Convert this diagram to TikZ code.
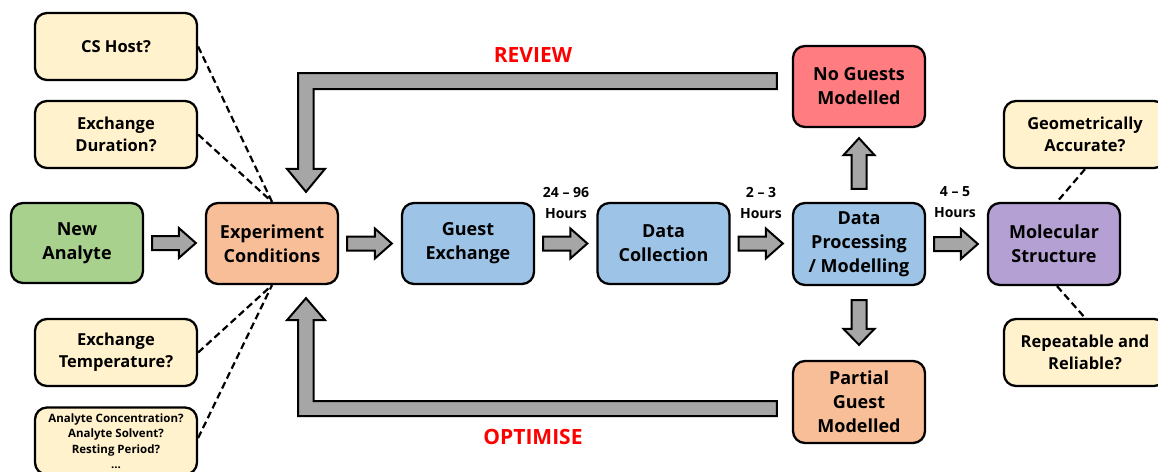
\documentclass[tikz,border=0pt]{standalone}
\usepackage{fontspec}
\setmainfont{Open Sans}
\usetikzlibrary{calc}
\definecolor{cyel}{HTML}{FFF2CC}
\definecolor{cgreen}{HTML}{A9D18E}
\definecolor{corange}{HTML}{F8BE97}
\definecolor{cblue}{HTML}{9DC3E6}
\definecolor{cred}{HTML}{FF7C80}
\definecolor{cpurple}{HTML}{B4A0D2}
\definecolor{cgray}{HTML}{A6A6A6}
\tikzset{
 box/.style={draw=black, line width=2.3pt, rounded corners=12pt, minimum width=132pt, minimum height=81pt, align=center, inner sep=2pt, font=\bfseries\fontsize{18}{24}\selectfont},
 qbox/.style={box, fill=cyel, minimum width=162pt, minimum height=67pt, font=\bfseries\fontsize{16.5}{22}\selectfont},
 barrow/.style={draw=black, fill=cgray, line width=2pt, line join=miter},
 dashline/.style={draw=black, line width=2.2pt, dash pattern=on 7pt off 4pt},
 timelbl/.style={align=center, font=\bfseries\fontsize{14}{21}\selectfont},
 redlbl/.style={text=red, font=\bfseries\fontsize{21}{24}\selectfont},
}
\newcommand{\harr}[2]{\path[barrow] let \p1=($(#1.east)+(8pt,0)$), \p2=($(#2.west)+(-9pt,0)$) in
 (\x1,\y1+7pt) -- (\x2-17pt,\y1+7pt) -- (\x2-17pt,\y1+15pt) -- (\x2,\y1) -- (\x2-17pt,\y1-15pt) -- (\x2-17pt,\y1-7pt) -- (\x1,\y1-7pt) -- cycle;}
\newcommand{\uarr}[2]{\path[barrow] let \p1=($(#1.north)+(0,13pt)$), \p2=($(#2.south)+(0,-10pt)$) in
 (\x1-7.5pt,\y1) -- (\x1-7.5pt,\y2-17pt) -- (\x1-15.5pt,\y2-17pt) -- (\x1,\y2) -- (\x1+15.5pt,\y2-17pt) -- (\x1+7.5pt,\y2-17pt) -- (\x1+7.5pt,\y1) -- cycle;}
\newcommand{\darr}[2]{\path[barrow] let \p1=($(#1.south)+(0,-14pt)$), \p2=($(#2.north)+(0,15pt)$) in
 (\x1-7.5pt,\y1) -- (\x1-7.5pt,\y2+16pt) -- (\x1-15.5pt,\y2+16pt) -- (\x1,\y2) -- (\x1+15.5pt,\y2+16pt) -- (\x1+7.5pt,\y2+16pt) -- (\x1+7.5pt,\y1) -- cycle;}
\begin{document}
\begin{tikzpicture}[x=1pt,y=-1pt]
\useasboundingbox (0,0) rectangle (1158,471);
\clip (0,0) rectangle (1158,471);
\fill[white] (0,0) rectangle (1158,471);

% question boxes
\node[qbox] (cs) at (116,46.5) {CS Host?};
\node[qbox] (ed) at (116,134.5) {Exchange\\Duration?};
\node[qbox] (et) at (116,352.5) {Exchange\\Temperature?};
\node[qbox, font=\bfseries\fontsize{11.5}{15.5}\selectfont] (oth) at (116,441) {Analyte Concentration?\\Analyte Solvent?\\Resting Period?\\...};
\node[qbox] (ga) at (1085,134.5) {Geometrically\\Accurate?};
\node[qbox] (rr) at (1085,352.5) {Repeatable and\\Reliable?};

% main boxes
\node[box, fill=cgreen, minimum height=80pt] (na) at (77,243) {New\\Analyte};
\node[box, fill=corange] (exp) at (272,243.5) {Experiment\\Conditions};
\node[box, fill=cblue] (ge) at (468,243.5) {Guest\\Exchange};
\node[box, fill=cblue] (dc) at (663.5,243.5) {Data\\Collection};
\node[box, fill=cblue, minimum height=82pt] (dp) at (859,244) {Data\\Processing\\/ Modelling};
\node[box, fill=cpurple, minimum height=82pt] (ms) at (1054,244) {Molecular\\Structure};
\node[box, fill=cred] (ng) at (859,86.5) {No Guests\\Modelled};
\node[box, fill=corange, minimum height=82pt] (pg) at (859,402) {Partial\\Guest\\Modelled};

% dashed links
\draw[dashline] (cs.east) -- (exp.north);
\draw[dashline] (ed.east) -- (exp.north);
\draw[dashline] (et.east) -- (exp.south);
\draw[dashline] ($(oth.east)+(0,3pt)$) -- (exp.south);
\draw[dashline] (ga.south) -- ($(ms.north)+(3pt,0)$);
\draw[dashline] ($(ms.south)+(3pt,0)$) -- (rr.north);

% block arrows
\harr{na}{exp}
\harr{exp}{ge}
\harr{ge}{dc}
\harr{dc}{dp}
\harr{dp}{ms}
\uarr{dp}{ng}
\darr{dp}{pg}

% feedback arrows
\path[barrow] let \p1=($(ng.west)+(-15pt,5.5pt)$), \p2=($(exp.north)+(34pt,10pt)$) in
 (\x1,\y1+8pt) -- (\x2-8pt,\y1+8pt) -- (\x2-8pt,\y2+23pt) -- (\x2-19pt,\y2+23pt) -- (\x2,\y2) -- (\x2+19pt,\y2+23pt) -- (\x2+7.5pt,\y2+23pt) -- (\x2+7.5pt,\y1-8pt) -- (\x1,\y1-8pt) -- cycle;
\path[barrow] let \p1=($(pg.west)+(-15pt,-6.5pt)$), \p2=($(exp.south)+(34pt,-13pt)$) in
 (\x1,\y1-7.5pt) -- (\x2-8pt,\y1-7.5pt) -- (\x2-8pt,\y2-22pt) -- (\x2-19pt,\y2-22pt) -- (\x2,\y2) -- (\x2+19pt,\y2-22pt) -- (\x2+7.5pt,\y2-22pt) -- (\x2+7.5pt,\y1+7.5pt) -- (\x1,\y1+7.5pt) -- cycle;

% labels
\node[redlbl] (rev) at (533,55) {REVIEW};
\node[redlbl] (opt) at (533,437) {OPTIMISE};
\node[timelbl] (t1) at (566,202.5) {24 – 96\\Hours};
\node[timelbl] (t2) at (761,202.5) {2 – 3\\Hours};
\node[timelbl] (t3) at (955,202.5) {4 – 5\\Hours};
\end{tikzpicture}
\end{document}
